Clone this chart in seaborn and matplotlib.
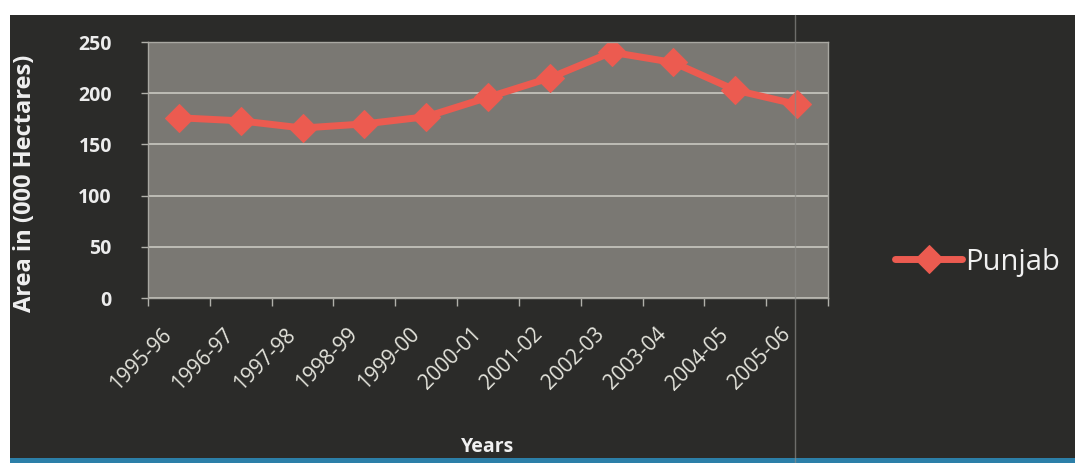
import pandas as pd
import seaborn as sns
import matplotlib.pyplot as plt
import matplotlib.transforms as mtransforms
from matplotlib.patches import Rectangle
from matplotlib.lines import Line2D

# -----------------------------------------
# data
# -----------------------------------------
years = ["1995-96", "1996-97", "1997-98", "1998-99", "1999-00", "2000-01",
         "2001-02", "2002-03", "2003-04", "2004-05", "2005-06"]
area = [176, 173, 166, 170, 177, 196, 215, 240, 230, 203, 189]
yticks = [0, 50, 100, 150, 200, 250]

df = pd.DataFrame({"Years": years, "Area": area})

sns.set_theme(style="dark")
plt.rcParams["font.family"] = ["Open Sans", "DejaVu Sans"]

fig = plt.figure(figsize=(10.75, 4.63), dpi=100, facecolor="white")
# dark chart frame (white strip top and left like the scan)
fig.add_artist(Rectangle((10 / 1075, 0), 1 - 10 / 1075, 1 - 15 / 463,
                         transform=fig.transFigure, facecolor="#2b2b29",
                         edgecolor="none", zorder=-10))
fig.add_artist(Rectangle((10 / 1075, 0), 1 - 10 / 1075, 5 / 463,
                         transform=fig.transFigure, facecolor="#2c7fa8",
                         edgecolor="none", zorder=-9))

ax = fig.add_axes([148 / 1075, 1 - 298 / 463, 680 / 1075, 256 / 463])
ax.set_facecolor("#7a7873")

sns.lineplot(data=df, x="Years", y="Area", ax=ax, color="#ec5b50",
             linewidth=5, marker="D", markersize=14, markeredgecolor="#ec5b50",
             label="Punjab", sort=False)

ax.set_ylim(0, 250)
ax.set_xlim(-0.5, len(years) - 0.5)
ax.set_yticks(yticks)
ax.grid(axis="y", color="#c9c8c0", linewidth=1.2)
ax.grid(axis="x", visible=False)
for s in ax.spines.values():
    s.set_color("#a9a8a2")
    s.set_linewidth(1)

ax.tick_params(axis="y", colors="#e6e6e0", labelsize=14, length=5,
               width=1, pad=21, direction="out", left=True, color="#b0b0aa")
for t in ax.get_yticklabels():
    t.set_fontweight("bold")
    t.set_color("#ececec")

ax.set_xticks(range(len(years)))
ax.set_xticklabels(years, rotation=45, ha="right", va="center",
                   rotation_mode="anchor", color="#e4e4dc", fontsize=15)
ax.tick_params(axis="x", length=0, pad=24)
shift = mtransforms.ScaledTranslation(-10 / 100, 0, fig.dpi_scale_trans)
for t in ax.get_xticklabels():
    t.set_transform(t.get_transform() + shift)
ax.set_xticks([i - 0.5 for i in range(len(years) + 1)], minor=True)
ax.tick_params(axis="x", which="minor", length=6, color="#b0b0aa",
               bottom=True, direction="out")

ax.set_xlabel("Years", color="#f0f0f0", fontsize=14, fontweight="bold")
ax.set_ylabel("Area in (000 Hectares)", color="#f0f0f0", fontsize=17,
              fontweight="bold")
ax.xaxis.set_label_coords(0.5, -(457 - 298) / 256)
ax.xaxis.label.set_va("bottom")
ax.yaxis.set_label_coords(-(148 - 25) / 680, (298 - 183) / 256)
ax.yaxis.label.set_va("center")

leg = ax.legend(loc="center left", bbox_to_anchor=(1.06, 0.14), frameon=False,
                fontsize=21, handlelength=2.3, handletextpad=0.1,
                labelcolor="#f0f0f0")

# scan artefact: thin light vertical line
fig.add_artist(Line2D([795 / 1075, 795 / 1075], [0, 1 - 15 / 463],
                      transform=fig.transFigure, color="#8a8a86",
                      linewidth=1, alpha=0.7))

fig.savefig("out.png", dpi=100, facecolor=fig.get_facecolor())
